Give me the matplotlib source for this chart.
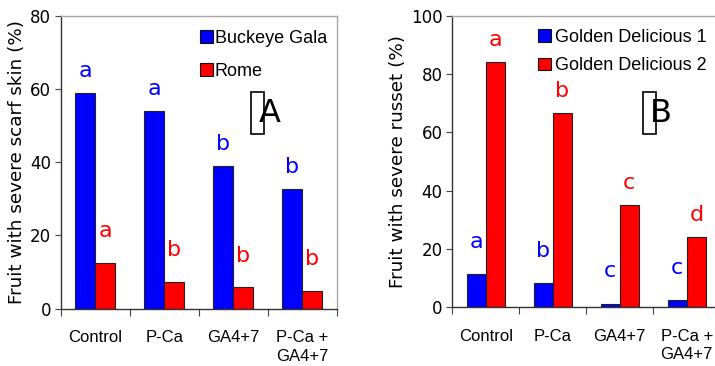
import matplotlib
matplotlib.use('Agg')
import matplotlib.pyplot as plt
from matplotlib.patches import Patch, Rectangle
import numpy as np

categories = ['Control', 'P-Ca', 'GA4+7', 'P-Ca +\nGA4+7']

# Panel A
gala = [58.8, 54.0, 38.9, 32.6]
rome = [12.6, 7.4, 5.8, 4.9]
gala_letters = ['a', 'a', 'b', 'b']
rome_letters = ['a', 'b', 'b', 'b']
left_yticks = [0, 20, 40, 60, 80]

# Panel B
gd1 = [11.5, 8.2, 1.3, 2.5]
gd2 = [84.1, 66.7, 35.0, 24.1]
gd1_letters = ['a', 'b', 'c', 'c']
gd2_letters = ['a', 'b', 'c', 'd']
right_yticks = [0, 20, 40, 60, 80, 100]

BLUE = '#0000ff'
RED = '#ff0000'

plt.rcParams['font.family'] = ['DejaVu Sans']

fig = plt.figure(figsize=(7.15, 3.66), dpi=100)
ax1 = fig.add_axes([0.0849, 0.1566, 0.3864, 0.8005])
ax2 = fig.add_axes([0.6326, 0.1604, 0.3748, 0.7967])


def panel(ax, s1, s2, l1, l2, names, ylabel, yticks, ymax, width,
          off1, off2, tag, legpos, legspacing, textpad, boxrect, tagpos):
    x = np.arange(len(categories))
    ax.bar(x - width / 2, s1, width, color=BLUE, edgecolor='#222222',
           linewidth=0.8, zorder=2)
    ax.bar(x + width / 2, s2, width, color=RED, edgecolor='#222222',
           linewidth=0.8, zorder=2)
    for xi, v, t in zip(x, s1, l1):
        ax.text(xi - width / 2, v + off1, t, color=BLUE, ha='center',
                va='center', fontsize=16)
    for xi, v, t in zip(x, s2, l2):
        ax.text(xi + width / 2, v + off2, t, color=RED, ha='center',
                va='center', fontsize=16)
    ax.set_xlim(-0.5, len(categories) - 0.5)
    ax.set_ylim(0, ymax)
    ax.set_yticks(yticks)
    ax.set_xticks(np.arange(-0.5, len(categories), 1))
    ax.set_xticklabels([])
    ax.set_xticks(x, minor=True)
    ax.set_xticklabels(categories, minor=True, fontfamily='Liberation Sans',
                       fontsize=12, linespacing=1.3)
    ax.tick_params(axis='x', which='minor', length=0, pad=15.5)
    ax.tick_params(axis='x', which='major', length=5, direction='out',
                   color='#444444')
    ax.tick_params(axis='y', length=4, labelsize=12, pad=3, color='#444444')
    ax.set_ylabel(ylabel, fontsize=13.2, labelpad=3)
    for s in ['left', 'bottom']:
        ax.spines[s].set_color('#333333')
        ax.spines[s].set_linewidth(1.0)
    for s in ['top', 'right']:
        ax.spines[s].set_color('#a8a8a8')
        ax.spines[s].set_linewidth(1.0)
    handles = [Patch(facecolor=BLUE, edgecolor='#111111', linewidth=0.8),
               Patch(facecolor=RED, edgecolor='#111111', linewidth=0.8)]
    ax.legend(handles, names, loc='upper left', bbox_to_anchor=legpos,
              frameon=False, borderpad=0, borderaxespad=0,
              handlelength=0.72, handleheight=0.72, handletextpad=textpad,
              labelspacing=legspacing,
              prop={'family': 'Liberation Sans', 'size': 13})
    ax.add_patch(Rectangle((boxrect[0], boxrect[1]), boxrect[2], boxrect[3],
                           transform=ax.transAxes, facecolor='white',
                           edgecolor='black', linewidth=1.2, zorder=3))
    ax.text(tagpos[0], tagpos[1], tag, transform=ax.transAxes, fontsize=23,
            ha='center', va='center', zorder=4)


panel(ax1, gala, rome, gala_letters, rome_letters, ['Buckeye Gala', 'Rome'],
      'Fruit with severe scarf skin (%)', left_yticks, 80, 0.29,
      6.0, 8.6, 'A', (0.504, 0.952), 0.9, 0.11,
      (0.688, 0.595, 0.049, 0.146), (0.756, 0.667))

panel(ax2, gd1, gd2, gd1_letters, gd2_letters,
      ['Golden Delicious 1', 'Golden Delicious 2'],
      'Fruit with severe russet (%)', right_yticks, 100, 0.285,
      11.0, 7.5, 'B', (0.32, 0.956), 0.65, 0.22,
      (0.710, 0.593, 0.050, 0.146), (0.779, 0.666))

fig.savefig('out.png', dpi=100)
